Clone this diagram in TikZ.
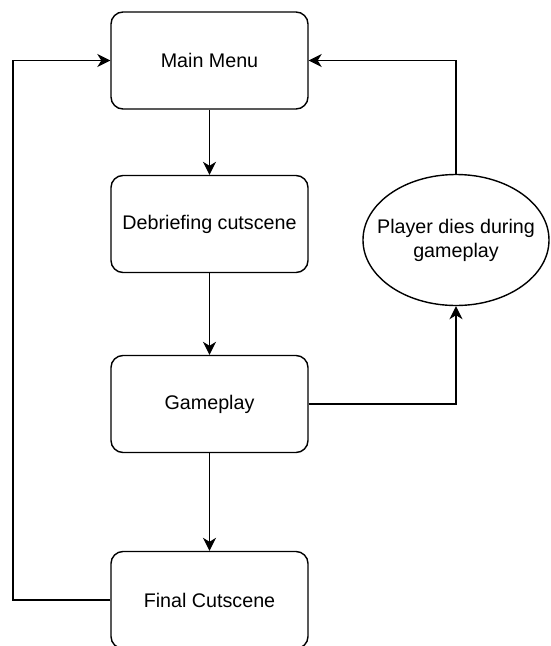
\documentclass[tikz,border=0pt]{standalone}
\usepackage{fontspec}
\setmainfont{Liberation Sans}
\usetikzlibrary{arrows.meta,shapes.geometric}
\begin{document}
\begin{tikzpicture}[x=1pt,y=-1pt,
  txt/.style={font=\fontsize{19.7}{24}\selectfont, align=center, inner sep=0pt},
  box/.style={draw, line width=1.4pt, rounded corners=12pt, minimum width=197pt, minimum height=97pt, inner sep=0pt, txt},
  oval/.style={draw, ellipse, line width=1.4pt, minimum width=186pt, minimum height=131pt, inner sep=0pt},
  arr/.style={line width=1.4pt, -{Stealth[length=13pt, width=13pt, inset=4pt]}}]
\useasboundingbox (0,0) rectangle (550,646);
\node[box] (mm) at (209.5,60.5) {Main Menu};
\node[box] (deb) at (209.5,224) {Debriefing cutscene};
\node[box] (gp) at (209.5,404) {Gameplay};
\node[box] (fc) at (209.5,600) {Final Cutscene};
\node[oval] (pd) at (456,240) {};
\node[txt] (pdt) at (pd.center) {Player dies during\\gameplay};
\coordinate (lft) at (13,0);
\draw[arr] (mm) -- (deb);
\draw[arr] (deb) -- (gp);
\draw[arr] (gp) -- (fc);
\draw[arr] (gp.east) -| (pd.south);
\draw[arr] (pd.north) |- (mm.east);
\draw[arr] (fc.west) -- (fc.west -| lft) |- (mm.west);
\end{tikzpicture}
\end{document}
